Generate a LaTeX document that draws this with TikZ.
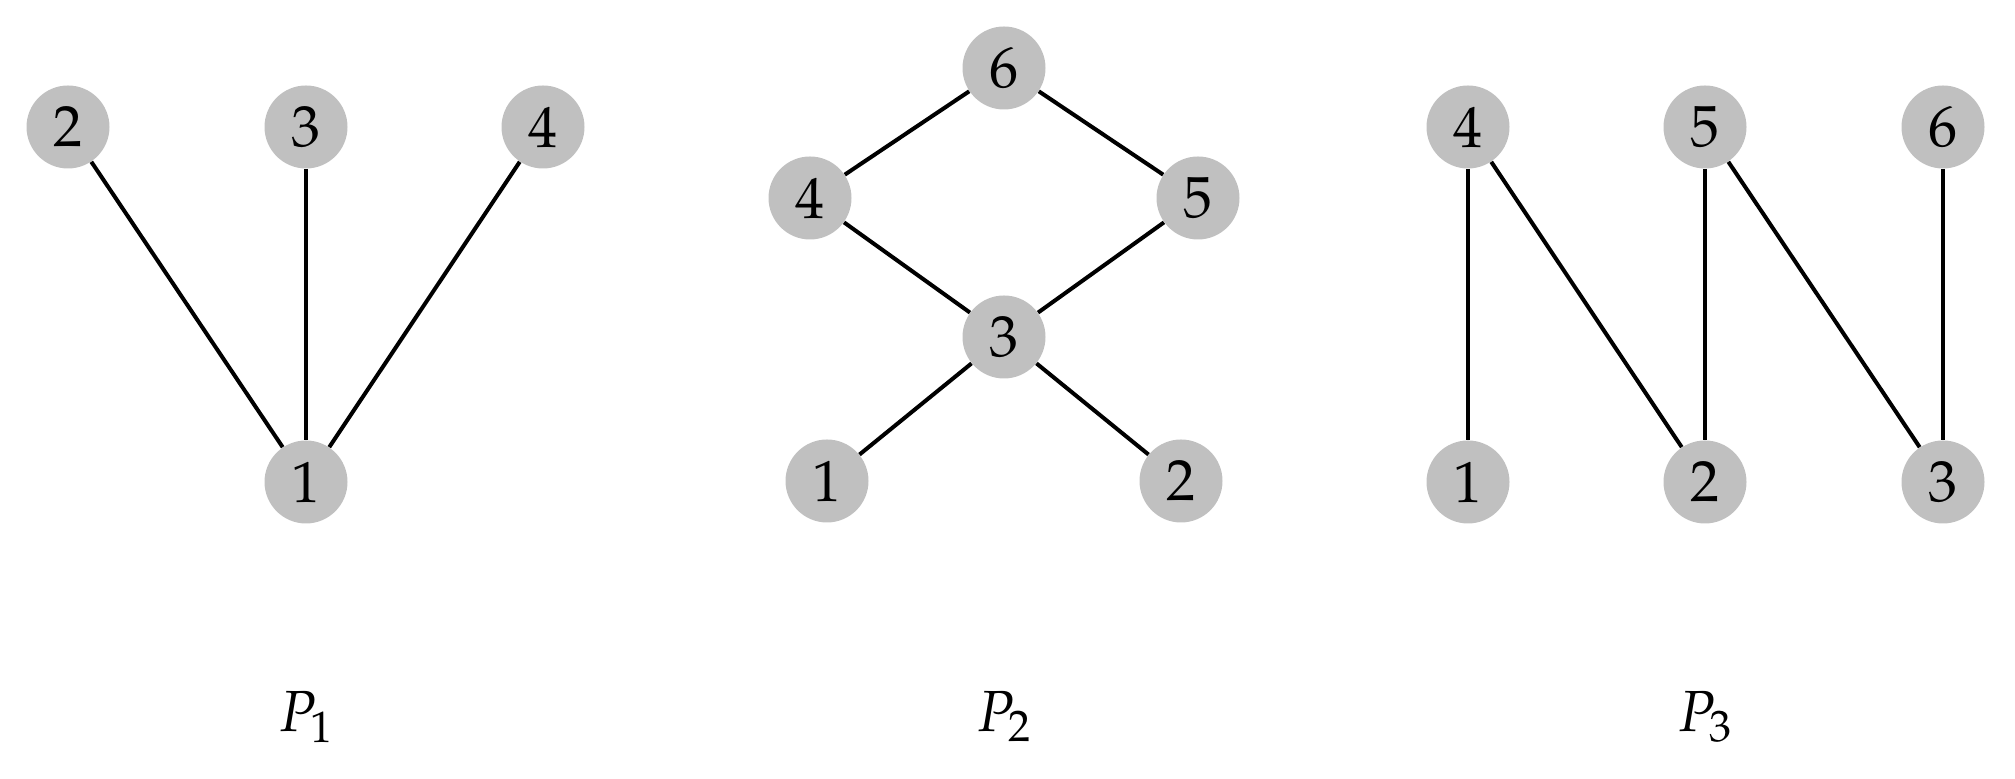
\documentclass[tikz,border=0pt]{standalone}
\usepackage{mathpazo}
\definecolor{nodegray}{RGB}{192,192,192}
\begin{document}
\begin{tikzpicture}[x=0.5pt,y=0.5pt,
  vert/.style={circle,fill=nodegray,minimum size=41.5pt,inner sep=0pt,font=\fontsize{29}{29}\selectfont},
  edge/.style={line width=2pt},
  lab/.style={font=\fontsize{29}{29}\selectfont}]
\useasboundingbox (0,0) rectangle (2015,779);
% P1
\node[vert] (a2) at (68,652) {$2$};
\node[vert] (a3) at (306,652) {$3$};
\node[vert] (a4) at (543,652) {$4$};
\node[vert] (a1) at (306,297) {$1$};
\draw[edge] (a2) -- (a1);
\draw[edge] (a3) -- (a1);
\draw[edge] (a4) -- (a1);
% P2
\node[vert] (b6) at (1004,711) {$6$};
\node[vert] (b4) at (810,581) {$4$};
\node[vert] (b5) at (1198,581) {$5$};
\node[vert] (b3) at (1004,442) {$3$};
\node[vert] (b1) at (827,298) {$1$};
\node[vert] (b2) at (1181,298) {$2$};
\draw[edge] (b6) -- (b4);
\draw[edge] (b6) -- (b5);
\draw[edge] (b4) -- (b3);
\draw[edge] (b5) -- (b3);
\draw[edge] (b3) -- (b1);
\draw[edge] (b3) -- (b2);
% P3
\node[vert] (c4) at (1468,652) {$4$};
\node[vert] (c5) at (1705,652) {$5$};
\node[vert] (c6) at (1943,652) {$6$};
\node[vert] (c1) at (1468,297) {$1$};
\node[vert] (c2) at (1705,297) {$2$};
\node[vert] (c3) at (1943,297) {$3$};
\draw[edge] (c4) -- (c1);
\draw[edge] (c4) -- (c2);
\draw[edge] (c5) -- (c2);
\draw[edge] (c5) -- (c3);
\draw[edge] (c6) -- (c3);
% labels
\node[lab] (l1) at (306,62) {$P_1$};
\node[lab] (l2) at (1004,62) {$P_2$};
\node[lab] (l3) at (1705,62) {$P_3$};
\end{tikzpicture}
\end{document}
